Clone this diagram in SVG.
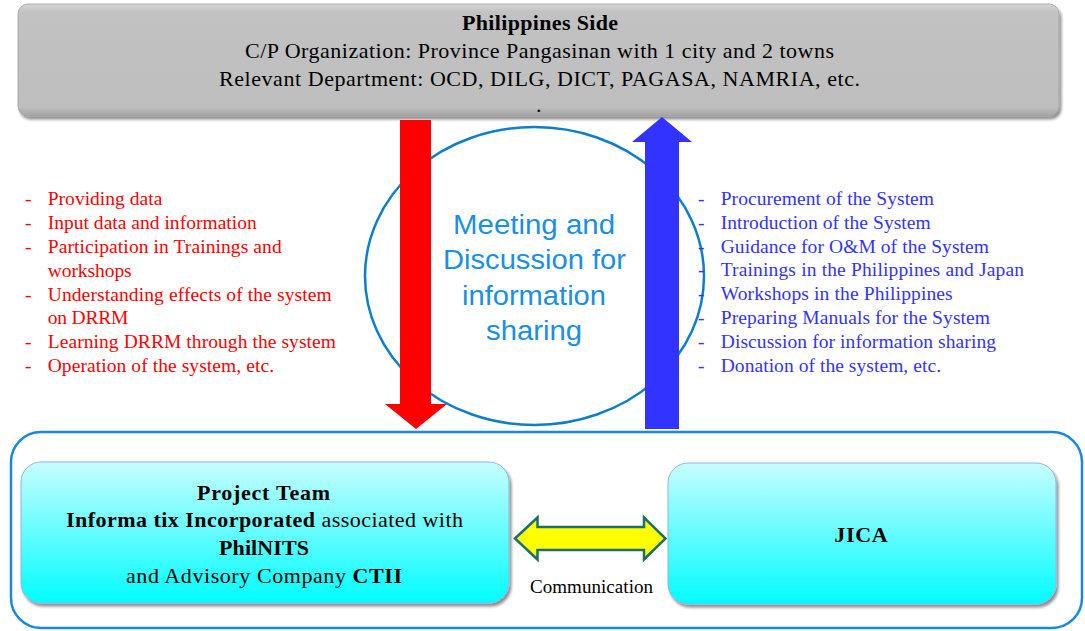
<svg xmlns="http://www.w3.org/2000/svg" width="1085" height="631" viewBox="0 0 1085 631">
  <defs>
    <linearGradient id="grayBevel" x1="0" y1="0" x2="0" y2="1">
      <stop offset="0" stop-color="#d6d6d6"/>
      <stop offset="0.07" stop-color="#c2c2c2"/>
      <stop offset="0.92" stop-color="#bebebe"/>
      <stop offset="1" stop-color="#a4a4a4"/>
    </linearGradient>
    <linearGradient id="cyanFill" x1="0" y1="0" x2="0" y2="1">
      <stop offset="0" stop-color="#c8fdfe"/>
      <stop offset="1" stop-color="#00fcff"/>
    </linearGradient>
    <filter id="shadow" x="-5%" y="-10%" width="110%" height="125%">
      <feGaussianBlur in="SourceAlpha" stdDeviation="1.6"/>
      <feOffset dx="1.5" dy="3" result="off"/>
      <feComponentTransfer><feFuncA type="linear" slope="0.45"/></feComponentTransfer>
      <feMerge><feMergeNode/><feMergeNode in="SourceGraphic"/></feMerge>
    </filter>
    <style>
      .serif { font-family: "Liberation Serif", "Times New Roman", serif; fill: #000; }
      .head { font-size: 22px; }
      .bold { font-weight: bold; }
      .red { font-family: "Liberation Serif", "Times New Roman", serif; font-size: 19.5px; fill: #ff0000; }
      .blue { font-family: "Liberation Serif", "Times New Roman", serif; font-size: 19.5px; fill: #3333ff; }
      .meet { font-family: "Liberation Sans", Arial, sans-serif; font-size: 27px; fill: #1a8fe3; }
      .node { fill: url(#cyanFill); stroke: #8fb6e6; stroke-width: 1; }
    </style>
  </defs>

  <rect width="1085" height="631" fill="#ffffff"/>

  <!-- upper organisation box -->
  <g id="philippines-side">
    <rect x="18" y="4" width="1041" height="112" rx="10" fill="url(#grayBevel)" stroke="#a0a0a0" stroke-width="0.8" filter="url(#shadow)"/>
    <text class="serif head bold" x="462" y="30" textLength="156" lengthAdjust="spacing">Philippines Side</text>
    <text class="serif head" x="245" y="58" textLength="589" lengthAdjust="spacing">C/P Organization: Province Pangasinan with 1 city and 2 towns</text>
    <text class="serif head" x="219" y="86" textLength="641" lengthAdjust="spacing">Relevant Department: OCD, DILG, DICT, PAGASA, NAMRIA, etc.</text>
    <text class="serif head" x="536" y="112">.</text>
  </g>

  <!-- central meeting ellipse -->
  <g id="meeting">
    <ellipse cx="534.5" cy="276" rx="169.5" ry="149" fill="#ffffff" stroke="#0b7fcc" stroke-width="2.5"/>
  </g>

  <!-- lower frame -->
  <g id="project-frame">
    <rect x="11" y="432" width="1071" height="196" rx="30" fill="none" stroke="#1a87e0" stroke-width="2.5"/>
  </g>

  <!-- flows between the two sides -->
  <g id="connectors">
    <polygon id="flow-down" points="400,120 431,120 431,404 447,404 416,429 385,404 400,404" fill="#ff0000"/>
    <polygon id="flow-up" points="645,429 679,429 679,142 692,142 662,117 632,142 645,142" fill="#3333ff"/>
    <polygon id="communication-link" points="515,538.5 537.5,517.5 537.5,527 644,527 644,517.5 665.5,538.5 644,559.5 644,550 537.5,550 537.5,559.5" fill="#ffff00" stroke="#1d6e6e" stroke-width="2.5" stroke-linejoin="miter"/>
    <text class="serif" x="530" y="592.5" font-size="19" textLength="123" lengthAdjust="spacing">Communication</text>
  </g>

  <!-- text inside the ellipse -->
  <g id="meeting-label" text-anchor="middle">
    <text class="meet" x="534" y="234" textLength="162" lengthAdjust="spacingAndGlyphs">Meeting and</text>
    <text class="meet" x="534.5" y="269" textLength="183" lengthAdjust="spacingAndGlyphs">Discussion for</text>
    <text class="meet" x="534" y="305" textLength="144" lengthAdjust="spacingAndGlyphs">information</text>
    <text class="meet" x="534" y="340" textLength="96" lengthAdjust="spacingAndGlyphs">sharing</text>
  </g>

  <!-- contributions of the Philippine side -->
  <g id="philippine-inputs" class="red">
    <text x="25" y="205">-</text><text x="47.7" y="205" textLength="114.6" lengthAdjust="spacing">Providing data</text>
    <text x="25" y="229">-</text><text x="47.7" y="229" textLength="209" lengthAdjust="spacing">Input data and information</text>
    <text x="25" y="253">-</text><text x="47.7" y="253" textLength="234" lengthAdjust="spacing">Participation in Trainings and</text>
    <text x="47.7" y="277" textLength="84" lengthAdjust="spacing">workshops</text>
    <text x="25" y="300.5">-</text><text x="47.7" y="300.5" textLength="284" lengthAdjust="spacing">Understanding effects of the system</text>
    <text x="47.7" y="324" textLength="80.7" lengthAdjust="spacing">on DRRM</text>
    <text x="25" y="348">-</text><text x="47.7" y="348" textLength="288.3" lengthAdjust="spacing">Learning DRRM through the system</text>
    <text x="25" y="372">-</text><text x="47.7" y="372" textLength="226.3" lengthAdjust="spacing">Operation of the system, etc.</text>
  </g>

  <!-- contributions of the project side -->
  <g id="project-inputs" class="blue">
    <text x="698" y="205">-</text><text x="720.7" y="205" textLength="213.3" lengthAdjust="spacing">Procurement of the System</text>
    <text x="698" y="228.5">-</text><text x="720.7" y="228.5" textLength="210" lengthAdjust="spacing">Introduction of the System</text>
    <text x="698" y="252.5">-</text><text x="720.7" y="252.5" textLength="268.3" lengthAdjust="spacing">Guidance for O&amp;M of the System</text>
    <text x="698" y="276">-</text><text x="720.7" y="276" textLength="303.3" lengthAdjust="spacing">Trainings in the Philippines and Japan</text>
    <text x="698" y="299.5">-</text><text x="720.7" y="299.5" textLength="232" lengthAdjust="spacing">Workshops in the Philippines</text>
    <text x="698" y="323.5">-</text><text x="720.7" y="323.5" textLength="269.3" lengthAdjust="spacing">Preparing Manuals for the System</text>
    <text x="698" y="347.5">-</text><text x="720.7" y="347.5" textLength="275.3" lengthAdjust="spacing">Discussion for information sharing</text>
    <text x="698" y="371.5">-</text><text x="720.7" y="371.5" textLength="220.3" lengthAdjust="spacing">Donation of the system, etc.</text>
  </g>

  <!-- project team node -->
  <g id="project-team">
    <rect class="node" x="21" y="462" width="488" height="141" rx="20" filter="url(#shadow)"/>
    <text class="serif head bold" x="197" y="500" textLength="133" lengthAdjust="spacing">Project Team</text>
    <text class="serif head" x="66" y="527" textLength="397" lengthAdjust="spacing"><tspan font-weight="bold">Informa tix Incorporated</tspan> associated with</text>
    <text class="serif head bold" x="219" y="555" textLength="90" lengthAdjust="spacing">PhilNITS</text>
    <text class="serif head" x="126" y="582.5" textLength="276" lengthAdjust="spacing">and Advisory Company <tspan font-weight="bold">CTII</tspan></text>
  </g>

  <!-- JICA node -->
  <g id="jica">
    <rect class="node" x="668" y="463" width="388" height="141" rx="20" filter="url(#shadow)"/>
    <text class="serif head bold" x="834.3" y="542" textLength="53.4" lengthAdjust="spacing">JICA</text>
  </g>
</svg>
